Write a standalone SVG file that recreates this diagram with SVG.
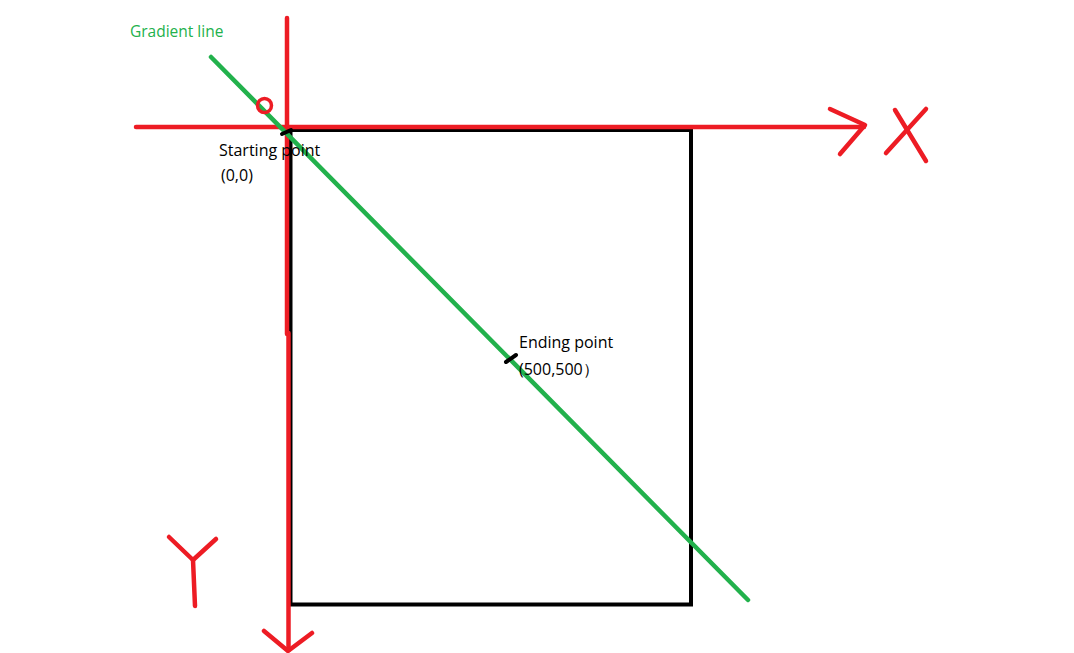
<svg xmlns="http://www.w3.org/2000/svg" width="1074" height="653" viewBox="0 0 1074 653">
<style>
.red{stroke:#ed1c24;stroke-width:4.5;fill:none;stroke-linecap:round;stroke-linejoin:round}
.blk{stroke:#000;stroke-width:4;fill:none}
.grn{stroke:#22b14c;stroke-width:4.5;fill:none;stroke-linecap:round}
.tick{stroke:#000;stroke-width:4;stroke-linecap:round}
text{font-family:"Open Sans","Noto Sans","DejaVu Sans",sans-serif;font-size:16px;fill:#000}
</style>
<rect width="1074" height="653" fill="#fff"/>
<g id="rectangle">
<rect x="290.5" y="130" width="400.5" height="474.5" class="blk"/>
</g>
<g id="connectors">
<line x1="287" y1="18" x2="287" y2="334" class="red"/>
<line x1="288.5" y1="333" x2="288.5" y2="650" class="red"/>
<polyline points="264,631 288,651 312,633" class="red"/>
<line x1="136" y1="127" x2="864" y2="127" class="red"/>
<polyline points="830,109 865,125 840,154" class="red"/>
<line x1="211" y1="57" x2="748" y2="600" class="grn"/>
</g>
<g id="axis-x-label">
<line x1="895" y1="110" x2="926" y2="161" class="red"/>
<line x1="926" y1="109" x2="886" y2="153" class="red"/>
</g>
<g id="axis-y-label">
<polyline points="169,537 193,560 216,539" class="red"/>
<line x1="193" y1="560" x2="195" y2="606" class="red"/>
</g>
<g id="origin">
<circle cx="264.5" cy="105.5" r="7" fill="none" stroke="#ed1c24" stroke-width="3.5"/>
</g>
<g id="start-point">
<line x1="282" y1="134" x2="291" y2="130" class="tick"/>
<text x="219" y="156">Starting point</text>
<text x="221" y="181">(0,0)</text>
</g>
<g id="end-point">
<line x1="506" y1="362" x2="516" y2="355" class="tick"/>
<text x="519" y="348">Ending point</text>
<text x="519" y="375">(500,500）</text>
</g>
<g id="gradient-label">
<text x="130" y="37" style="fill:#22b14c;font-size:15.5px">Gradient line</text>
</g>
</svg>
